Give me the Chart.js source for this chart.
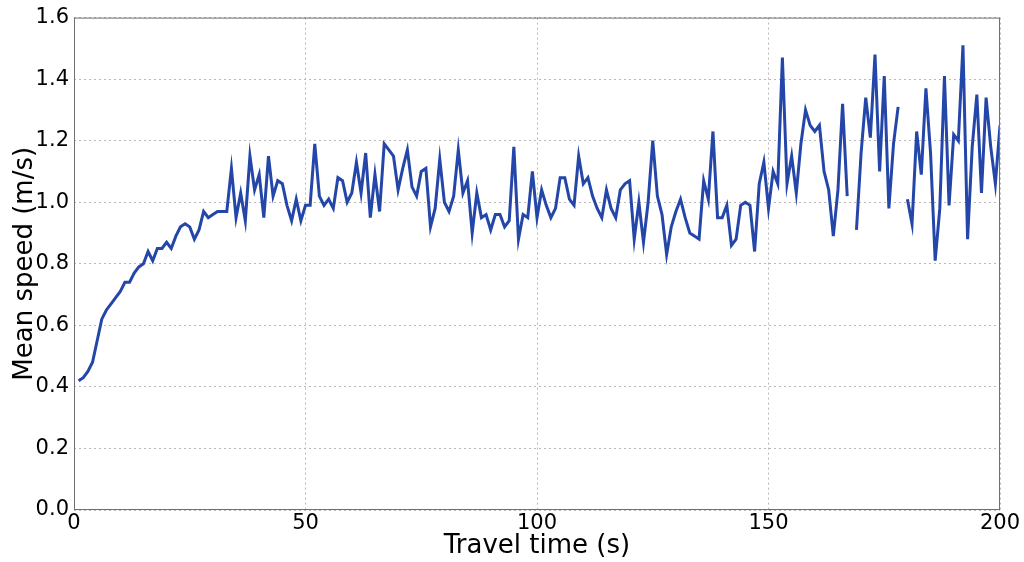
<!DOCTYPE html>
<html>
<head>
<meta charset="utf-8">
<script src="https://cdn.jsdelivr.net/npm/chart.js@4/dist/chart.umd.min.js"></script>
<style>
  html, body { margin: 0; padding: 0; background: #fff; }
  #wrap { width: 1024px; height: 562px; }
</style>
</head>
<body>
<div id="wrap"><canvas id="speedChart"></canvas></div>
<script>
// mean speed per second of travel time, null = no data
var startTime = 1;
var speeds = [
    0.42, 0.43, 0.45, 0.48, 0.55, 0.62, 0.65, 0.67, 0.69, 0.71,
    0.74, 0.74, 0.77, 0.79, 0.80, 0.84, 0.81, 0.85, 0.85, 0.87,
    0.85, 0.89, 0.92, 0.93, 0.92, 0.88, 0.91, 0.97, 0.95, 0.96,
    0.97, 0.97, 0.97, 1.11, 0.95, 1.03, 0.94, 1.15, 1.04, 1.09,
    0.95, 1.15, 1.02, 1.07, 1.06, 0.99, 0.94, 1.01, 0.94, 0.99,
    0.99, 1.19, 1.02, 0.99, 1.01, 0.98, 1.08, 1.07, 1.00, 1.03,
    1.13, 1.03, 1.16, 0.95, 1.09, 0.97, 1.19, 1.17, 1.15, 1.04,
    1.11, 1.17, 1.05, 1.02, 1.10, 1.11, 0.92, 0.98, 1.14, 1.00,
    0.97, 1.02, 1.17, 1.03, 1.07, 0.90, 1.03, 0.95, 0.96, 0.91,
    0.96, 0.96, 0.92, 0.94, 1.18, 0.88, 0.96, 0.95, 1.10, 0.95,
    1.04, 0.99, 0.95, 0.98, 1.08, 1.08, 1.01, 0.99, 1.15, 1.06,
    1.08, 1.02, 0.98, 0.95, 1.04, 0.98, 0.95, 1.04, 1.06, 1.07,
    0.88, 1.00, 0.87, 1.00, 1.20, 1.02, 0.96, 0.83, 0.92, 0.97,
    1.01, 0.95, 0.90, 0.89, 0.88, 1.07, 1.01, 1.23, 0.95, 0.95,
    0.99, 0.86, 0.88, 0.99, 1.00, 0.99, 0.84, 1.06, 1.13, 0.98,
    1.10, 1.06, 1.47, 1.06, 1.15, 1.03, 1.19, 1.30, 1.25, 1.23,
    1.25, 1.10, 1.04, 0.89, 1.04, 1.32, 1.02, null, 0.91, 1.16,
    1.34, 1.21, 1.48, 1.10, 1.41, 0.98, 1.19, 1.31, null, 1.01,
    0.93, 1.23, 1.09, 1.37, 1.16, 0.81, 0.98, 1.41, 0.99, 1.22,
    1.20, 1.51, 0.88, 1.18, 1.35, 1.03, 1.34, 1.18, 1.06, 1.25
];
var xTicks = [0, 50, 100, 150, 200];
var yTicks = [0.0, 0.2, 0.4, 0.6, 0.8, 1.0, 1.2, 1.4, 1.6];

var points = speeds.map(function (v, i) {
    return { x: startTime + i, y: v };
});

// full box around the plot area, like matplotlib
var frame = {
    id: 'frame',
    afterDraw: function (chart) {
        var a = chart.chartArea, c = chart.ctx;
        c.save();
        c.strokeStyle = '#707070';
        c.lineWidth = 1;
        c.strokeRect(a.left + 0.5, a.top + 0.5, a.right - a.left - 1, a.bottom - a.top - 1);
        c.restore();
    }
};

var ctx = document.getElementById('speedChart');
var speedChart = new Chart(ctx, {
    type: 'line',
    data: {
        datasets: [{
            data: points,
            borderColor: '#2346a8',
            borderWidth: 3,
            pointRadius: 0,
            tension: 0,
            spanGaps: false
        }]
    },
    options: {
        responsive: true,
        maintainAspectRatio: false,
        animation: false,
        layout: { padding: { top: 8, right: 24, bottom: 0, left: 10 } },
        plugins: {
            legend: { display: false },
            tooltip: { enabled: false }
        },
        scales: {
            x: {
                type: 'linear',
                min: 0,
                max: 200,
                afterBuildTicks: function (s) { s.ticks = xTicks.map(function (v) { return { value: v }; }); },
                afterFit: function (s) { s.height = 52; },
                ticks: {
                    color: '#000',
                    font: { family: 'DejaVu Sans', size: 21 },
                    padding: 1,
                    maxRotation: 0
                },
                grid: { color: '#b8b8b8', drawTicks: false },
                border: { display: false, dash: [2, 3] },
                title: {
                    display: true,
                    text: 'Travel time (s)',
                    color: '#000',
                    font: { family: 'DejaVu Sans', size: 26 },
                    padding: { top: 0, bottom: 0 }
                }
            },
            y: {
                min: 0,
                max: 1.6,
                afterBuildTicks: function (s) { s.ticks = yTicks.map(function (v) { return { value: v }; }); },
                afterFit: function (s) { s.width = 64; },
                ticks: {
                    color: '#000',
                    font: { family: 'DejaVu Sans', size: 21 },
                    padding: 5,
                    callback: function (v) { return v.toFixed(1); }
                },
                grid: { color: '#b8b8b8', drawTicks: false },
                border: { display: false, dash: [2, 3] },
                title: {
                    display: true,
                    text: 'Mean speed (m/s)',
                    color: '#000',
                    font: { family: 'DejaVu Sans', size: 26 },
                    padding: { top: 0, bottom: 0 }
                }
            }
        }
    },
    plugins: [frame]
});
</script>
</body>
</html>
